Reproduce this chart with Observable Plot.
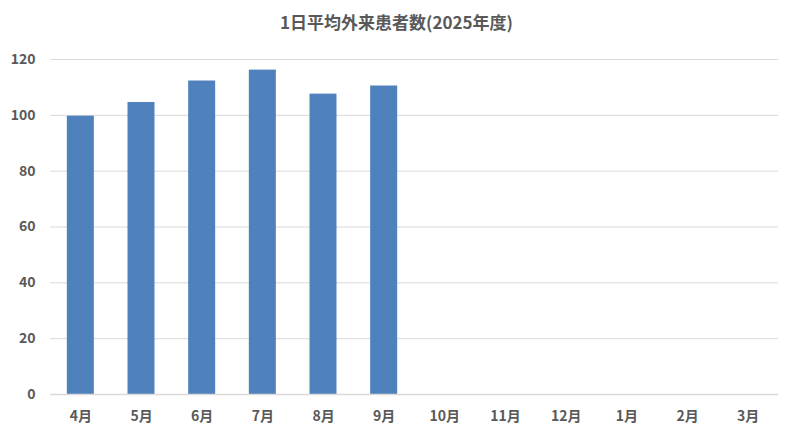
<!DOCTYPE html>
<html>
<head>
<meta charset="utf-8">
<script src="https://cdn.jsdelivr.net/npm/d3@7"></script>
<script src="https://cdn.jsdelivr.net/npm/@observablehq/plot@0.6"></script>
<style>
  html, body { margin: 0; padding: 0; background: #fff; }
  #title { height: 44px; line-height: 44px; text-align: center; font-family: "Noto Sans CJK JP", sans-serif; font-weight: bold; font-size: 17px; color: #595959; }
</style>
</head>
<body>
<div id="title">1日平均外来患者数(2025年度)</div>
<div id="chart"></div>
<script>
const months = ["4月","5月","6月","7月","8月","9月","10月","11月","12月","1月","2月","3月"];
const values = [99.7, 104.6, 112.3, 116.2, 107.6, 110.5];
const yTicks = [0, 20, 40, 60, 80, 100, 120];

const data = values.map((v, i) => ({month: months[i], value: v}));

const chart = Plot.plot({
  width: 793,
  height: 395,
  marginLeft: 50,
  marginRight: 15,
  marginTop: 15,
  marginBottom: 45,
  style: { fontFamily: "'Noto Sans CJK JP', sans-serif", fontSize: "14px", color: "#595959", fontWeight: "bold" },
  x: { domain: months, paddingInner: 0.555, paddingOuter: 0.2775, round: false, label: null, tickSize: 0, tickPadding: 17 },
  y: { domain: [0, 120], ticks: yTicks, label: null, tickSize: 0, tickPadding: 15 },
  marks: [
    Plot.gridY(yTicks, { stroke: "#d9d9d9", strokeOpacity: 1, strokeWidth: 1 }),
    Plot.barY(data, { x: "month", y: "value", fill: "#4f81bd" }),
    Plot.ruleY([0], { stroke: "#d9d9d9", strokeWidth: 1.5 })
  ]
});
document.getElementById("chart").appendChild(chart);
</script>
</body>
</html>
